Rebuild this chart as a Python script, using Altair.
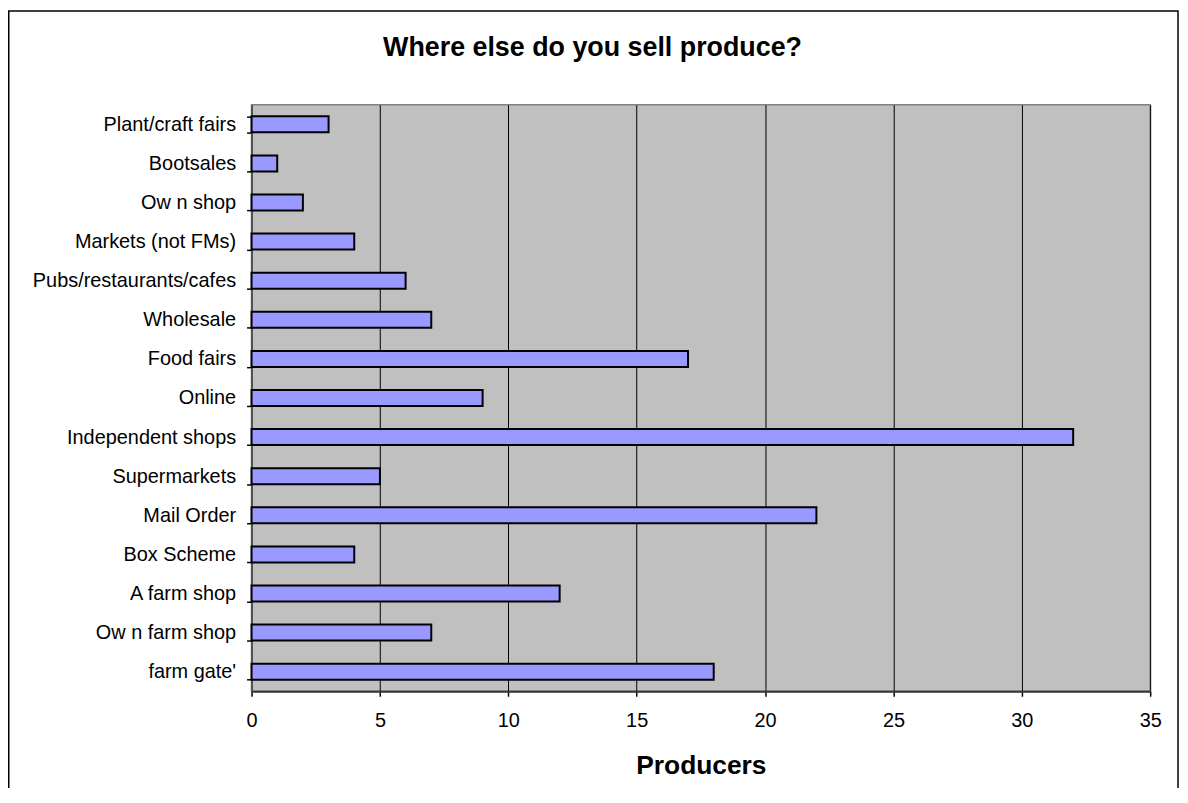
import altair as alt
import pandas as pd

categories = [
    "Plant/craft fairs", "Bootsales", "Ow n shop", "Markets (not FMs)",
    "Pubs/restaurants/cafes", "Wholesale", "Food fairs", "Online",
    "Independent shops", "Supermarkets", "Mail Order", "Box Scheme",
    "A farm shop", "Ow n farm shop", "farm gate'",
]
producers = [3, 1, 2, 4, 6, 7, 17, 9, 32, 5, 22, 4, 12, 7, 18]
x_ticks = [0, 5, 10, 15, 20, 25, 30, 35]

df = pd.DataFrame({"category": categories, "producers": producers})

FONT = "Liberation Sans"

bars = alt.Chart(df).mark_bar(
    fill="#9999FF", stroke="#000000", strokeWidth=2
).encode(
    x=alt.X(
        "producers:Q",
        scale=alt.Scale(domain=[0, 35], nice=False, zero=True),
        axis=alt.Axis(
            values=x_ticks,
            title="Producers",
            titleFont=FONT,
            titleFontSize=26.5,
            titleFontWeight="bold",
            titleColor="#000000",
            titleBaseline="alphabetic",
            titleY=83,
            labelFont=FONT,
            labelFontSize=20,
            labelColor="#000000",
            labelBaseline="alphabetic",
            labelPadding=30,
            labelFlush=False,
            tickSize=5,
            tickColor="#000000",
            tickWidth=1.5,
            domainColor="#333333",
            domainWidth=2,
            grid=True,
            gridColor="#000000",
            gridWidth=1,
            gridOpacity=1,
        ),
    ),
    y=alt.Y(
        "category:N",
        sort=categories,
        scale=alt.Scale(paddingInner=0.59, paddingOuter=0.295),
        axis=alt.Axis(
            title=None,
            labelFont=FONT,
            labelFontSize=20,
            labelColor="#000000",
            labelPadding=11,
            labelLimit=400,
            tickBand="extent",
            tickSize=5,
            tickColor="#000000",
            tickWidth=1.5,
            domainColor="#555555",
            domainWidth=1.5,
            grid=False,
        ),
    ),
)

border = alt.Chart(pd.DataFrame({"a": [0]})).mark_rect(
    fillOpacity=0, stroke="#000000", strokeWidth=1.5
).encode(
    x=alt.value(-244.25),
    x2=alt.value(932),
    y=alt.value(-94.25),
    y2=alt.value(720),
)

chart = alt.layer(border, bars).properties(
    width=904,
    height=590,
    title=alt.TitleParams(
        text="Where else do you sell produce?",
        font=FONT,
        fontSize=27,
        fontWeight="bold",
        color="#000000",
        anchor="middle",
        frame="group",
        baseline="alphabetic",
        offset=0,
        dx=-109,
        dy=73,
    ),
    autosize=alt.AutoSizeParams(type="none"),
    padding={"left": 245, "top": 95, "right": 30, "bottom": 95},
    background="#FFFFFF",
).configure_view(
    fill="#C0C0C0", stroke="#808080", strokeWidth=1.5
)

chart.save("out.html", embed_options={"renderer": "svg", "actions": False})
